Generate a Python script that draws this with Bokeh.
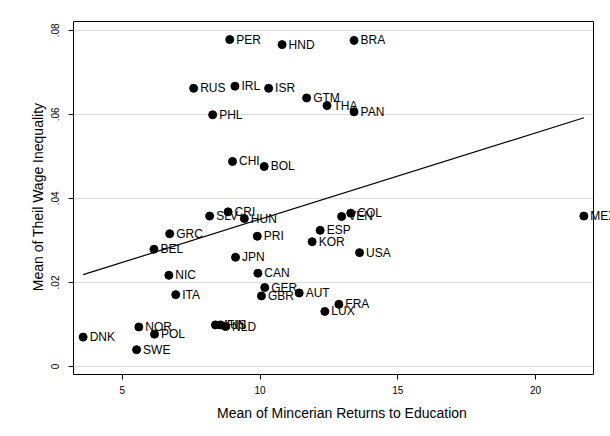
from bokeh.plotting import figure
from bokeh.models import (ColumnDataSource, Range1d, FixedTicker, CustomJSTickFormatter,
                          LabelSet)
from bokeh.core.properties import value
from bokeh.embed import file_html
from bokeh.resources import INLINE

countries = ["PER", "HND", "BRA", "RUS", "IRL", "ISR", "GTM", "THA", "PAN", "PHL",
             "CHI", "BOL", "CRI", "SLV", "HUN", "COL", "VEN", "MEX", "GRC", "ESP",
             "PRI", "KOR", "BEL", "USA", "JPN", "NIC", "CAN", "GER", "AUT", "ITA",
             "GBR", "FRA", "LUX", "AUS", "FIN", "NLD", "NOR", "POL", "DNK", "SWE"]
returns = [8.90, 10.80, 13.41, 7.59, 9.09, 10.31, 11.69, 12.43, 13.41, 8.28,
           9.00, 10.15, 8.84, 8.17, 9.43, 13.29, 12.96, 21.75, 6.72, 12.18,
           9.90, 11.89, 6.15, 13.61, 9.11, 6.69, 9.92, 10.17, 11.42, 6.94,
           10.05, 12.86, 12.35, 8.38, 8.56, 8.75, 5.60, 6.17, 3.58, 5.52]
theil = [0.0778, 0.0766, 0.0776, 0.0662, 0.0667, 0.0662, 0.0639, 0.0621, 0.0606, 0.0599,
         0.0488, 0.0476, 0.0368, 0.0358, 0.0352, 0.0365, 0.0357, 0.0358, 0.0316, 0.0324,
         0.0310, 0.0297, 0.0279, 0.0271, 0.0260, 0.0217, 0.0222, 0.0188, 0.0175, 0.0171,
         0.0168, 0.0148, 0.0131, 0.0099, 0.0099, 0.0095, 0.0094, 0.0077, 0.0070, 0.0040]

# fitted line
fit_intercept = 0.0145
fit_slope = 0.002055

y_ticks = [0, 0.02, 0.04, 0.06, 0.08]
x_ticks = [5, 10, 15, 20]

FONT = "Liberation Sans"

# boxed plot region (data units); the drawing area runs a little past it
X0, X1 = 3.23, 22.1
Y0, Y1 = -0.0019, 0.0821
FRAME_W, EXTRA_W = 520, 17     # px
FRAME_H, EXTRA_H = 353, 2      # px
x_end = X1 + EXTRA_W / FRAME_W * (X1 - X0)
y_end = Y1 + EXTRA_H / FRAME_H * (Y1 - Y0)

src = ColumnDataSource(dict(x=returns, y=theil, name=countries))

p = figure(width=610, height=436, output_backend="svg", toolbar_location=None,
           x_range=Range1d(X0, x_end), y_range=Range1d(Y0, y_end),
           min_border_left=73, min_border_right=0, min_border_top=21 - EXTRA_H,
           min_border_bottom=62)

p.background_fill_color = "white"
p.border_fill_color = "white"
p.outline_line_color = None

# grid
p.xgrid.visible = False
p.ygrid.grid_line_color = "#dcdcdc"
p.ygrid.grid_line_width = 1
p.ygrid.ticker = FixedTicker(ticks=y_ticks)
try:
    p.ygrid.cross_bounds = (X0, X1)
except Exception:
    pass

# top and right edges of the box around the plot region
p.line([X0, X1, X1], [Y1, Y1, Y0], line_color="black", line_width=1)

# fitted line
fx = [min(returns), max(returns)]
fy = [fit_intercept + fit_slope * v for v in fx]
p.line(fx, fy, line_color="black", line_width=1.2)

# points
p.scatter("x", "y", source=src, size=8, color="black")

labels = LabelSet(x="x", y="y", text="name", source=src, x_offset=6.5, y_offset=0,
                  text_baseline="middle", text_align="left",
                  text_font=value(FONT), text_font_size=value("12px"), text_color="black")
p.add_layout(labels)

# axes
p.xaxis.bounds = (X0, X1)
p.yaxis.bounds = (Y0, Y1)
p.xaxis.ticker = FixedTicker(ticks=x_ticks)
p.yaxis.ticker = FixedTicker(ticks=y_ticks)
p.yaxis.formatter = CustomJSTickFormatter(code="""
    if (Math.abs(tick) < 1e-9) { return "0"; }
    return tick.toFixed(2).replace(/^0/, "");
""")
p.yaxis.major_label_orientation = "vertical"

for ax in [p.xaxis[0], p.yaxis[0]]:
    ax.axis_line_color = "black"
    ax.axis_line_width = 1
    ax.major_tick_line_color = "black"
    ax.major_tick_out = 5
    ax.major_tick_in = 0
    ax.minor_tick_line_color = None
    ax.major_label_text_font = FONT
    ax.major_label_text_font_size = "10px"
    ax.major_label_text_color = "black"
    ax.axis_label_text_font = FONT
    ax.axis_label_text_font_size = "14px"
    ax.axis_label_text_font_style = "normal"
    ax.axis_label_text_color = "black"

p.xaxis.axis_label = "Mean of Mincerian Returns to Education"
p.yaxis.axis_label = "Mean of Theil Wage Inequality"
p.xaxis.major_label_standoff = 6
p.xaxis.axis_label_standoff = 8
p.yaxis.major_label_standoff = 9
p.yaxis.axis_label_standoff = 3

open("out.html", "w").write(file_html(p, INLINE))
